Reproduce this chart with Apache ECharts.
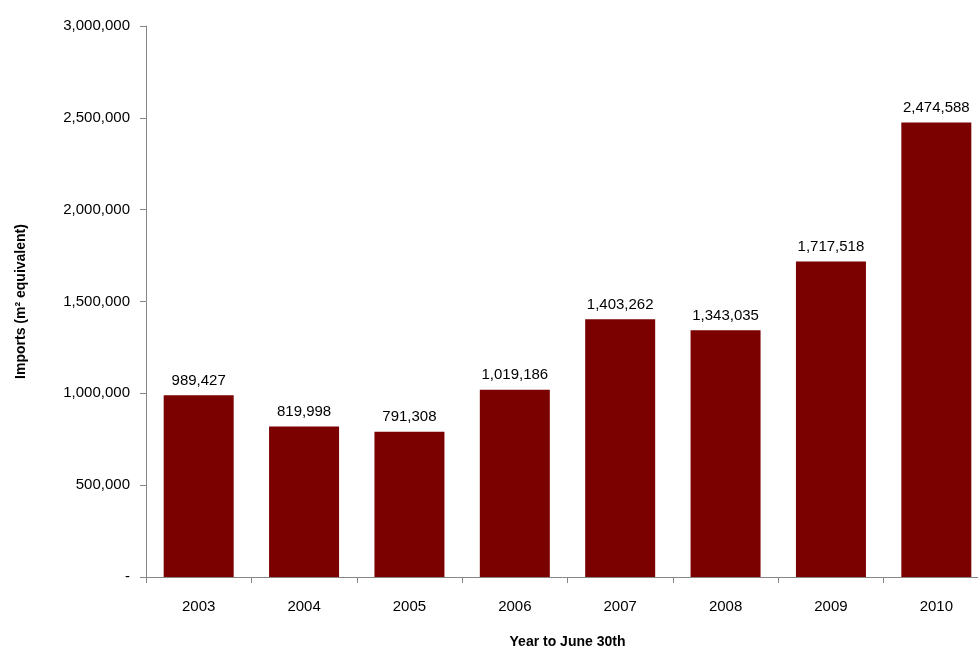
<!DOCTYPE html>
<html>
<head>
<meta charset="utf-8">
<script src="https://cdn.jsdelivr.net/npm/echarts@6/dist/echarts.min.js"></script>
<style>html,body{margin:0;padding:0;background:#fff}#chart{width:978px;height:651px}</style>
</head>
<body>
<div id="chart"></div>
<script>
// 数据
var years = ['2003', '2004', '2005', '2006', '2007', '2008', '2009', '2010']
var imports = [989427, 819998, 791308, 1019186, 1403262, 1343035, 1717518, 2474588]

var font = 'Liberation Sans'
var chart = echarts.init(document.getElementById('chart'))
chart.setOption({
	animation: false,
	grid: { left: 146, width: 843, top: 26, bottom: 74, containLabel: false, outerBoundsMode: 'none' },
	xAxis: {
		type: 'category',
		data: years,
		name: 'Year to June 30th',
		nameLocation: 'middle',
		nameGap: 58,
		nameTextStyle: { fontFamily: font, fontSize: 14, fontWeight: 'bold', color: '#000' },
		axisLine: { lineStyle: { color: '#868686' } },
		axisTick: { show: true, length: 6, lineStyle: { color: '#868686' } },
		axisLabel: { fontFamily: font, fontSize: 15, color: '#000', margin: 22 }
	},
	yAxis: {
		type: 'value',
		min: 0,
		max: 3000000,
		interval: 500000,
		name: 'Imports (m² equivalent)',
		nameLocation: 'middle',
		nameGap: 118,
		nameRotate: 90,
		nameTextStyle: { fontFamily: font, fontSize: 14, fontWeight: 'bold', color: '#000' },
		splitLine: { show: false },
		axisLine: { show: true, lineStyle: { color: '#868686' } },
		axisTick: { show: true, inside: false, length: 6, lineStyle: { color: '#868686' } },
		axisLabel: {
			fontFamily: font, fontSize: 15, color: '#000', margin: 16,
			formatter: function (v) { return v === 0 ? '-' : v.toLocaleString('en-US') }
		}
	},
	series: [{
		type: 'bar',
		data: imports,
		barWidth: 70,
		itemStyle: { color: '#7B0000' },
		label: {
			show: true,
			position: 'top',
			distance: 7,
			fontFamily: font,
			fontSize: 15,
			color: '#000',
			formatter: function (p) { return p.value.toLocaleString('en-US') }
		}
	}]
})
</script>
</body>
</html>
